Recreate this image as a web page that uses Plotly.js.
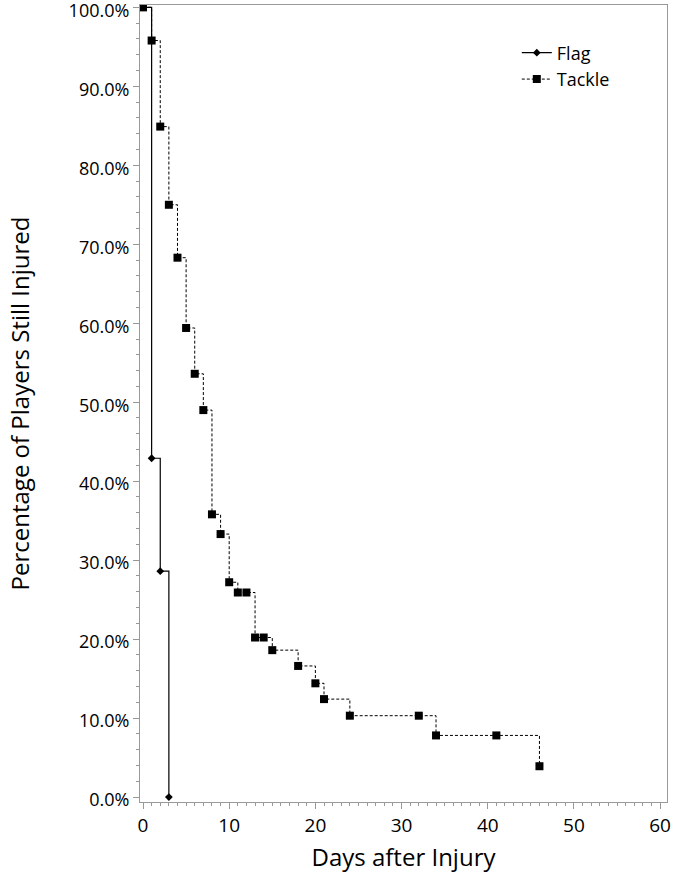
<!DOCTYPE html>
<html>
<head>
<meta charset="utf-8">
<script src="https://cdn.plot.ly/plotly-3.0.1.min.js"></script>
<style>html,body{margin:0;padding:0;background:#fff;}#chart{width:674px;height:874px;}</style>
</head>
<body>
<div id="chart"></div>
<script>
var flagDays = [0, 1, 2, 3];
var flagPct = [100, 42.9, 28.6, 0];
var tackleDays = [0, 1, 2, 3, 4, 5, 6, 7, 8, 9, 10, 11, 12, 13, 14, 15, 18, 20, 21, 24, 32, 34, 41, 46];
var tacklePct = [100, 95.8, 84.9, 75.0, 68.3, 59.4, 53.6, 49.0, 35.8, 33.3, 27.2, 25.9, 25.9, 20.2, 20.2, 18.6, 16.6, 14.4, 12.4, 10.3, 10.3, 7.8, 7.8, 3.9];
var yTicks = [0, 10, 20, 30, 40, 50, 60, 70, 80, 90, 100];
var xTicks = [0, 10, 20, 30, 40, 50, 60];

var fontFam = "'Open Sans', 'Noto Sans', sans-serif";
var traces = [
  {
    x: flagDays, y: flagPct, name: 'Flag', type: 'scatter', mode: 'lines+markers',
    line: {shape: 'hv', color: '#000', width: 1.2},
    marker: {symbol: 'diamond', size: 6, color: '#000'}
  },
  {
    x: tackleDays, y: tacklePct, name: 'Tackle', type: 'scatter', mode: 'lines+markers',
    line: {shape: 'hv', color: '#000', width: 1, dash: '3px,2px'},
    marker: {symbol: 'square', size: 8, color: '#000'}
  }
];
var layout = {
  width: 674, height: 874,
  margin: {l: 140, r: 7, t: 5, b: 72},
  paper_bgcolor: '#fff', plot_bgcolor: '#fff',
  font: {family: fontFam, color: '#000', size: 19},
  showlegend: true,
  legend: {x: 0.715, y: 0.963, xanchor: 'left', yanchor: 'top', bgcolor: 'rgba(0,0,0,0)',
           font: {size: 18, family: fontFam}, tracegroupgap: 0, itemwidth: 30},
  xaxis: {
    range: [-0.35, 60.8], tickvals: xTicks, ticktext: xTicks.map(String),
    showgrid: false, zeroline: false, showline: true, linecolor: '#999', linewidth: 1, mirror: true,
    ticks: 'outside', ticklen: 6, tickcolor: '#999', tickfont: {size: 19}, ticklabeloverflow: 'allow',
    minor: {dtick: 1, tick0: 0, ticks: 'outside', ticklen: 3, tickcolor: '#999', showgrid: false},
    title: {text: 'Days after Injury', font: {size: 24}, standoff: 12}
  },
  yaxis: {
    range: [-0.63, 100.3], tickvals: yTicks, ticktext: yTicks.map(function(v){return v.toFixed(1) + '%';}),
    showgrid: false, zeroline: false, showline: true, linecolor: '#999', linewidth: 1, mirror: true,
    ticks: 'outside', ticklen: 6, tickcolor: '#999', tickfont: {size: 18}, ticklabeloverflow: 'allow',
    ticklabelshift: 3,
    minor: {dtick: 2, tick0: 0, ticks: 'outside', ticklen: 3, tickcolor: '#999', showgrid: false},
    title: {text: 'Percentage of Players Still Injured', font: {size: 24}, standoff: 32}
  }
};
Plotly.newPlot('chart', traces, layout, {displayModeBar: false, staticPlot: true});
</script>
</body>
</html>
